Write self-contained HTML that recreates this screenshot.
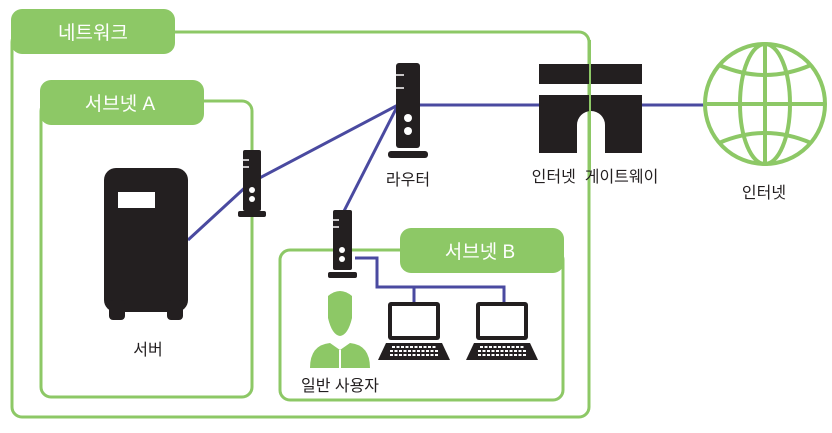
<!DOCTYPE html>
<html><head><meta charset="utf-8"><style>
body{margin:0;background:#fff;}
svg text{font-family:"Liberation Sans","Noto Sans CJK KR",sans-serif;}
</style></head><body>
<svg width="832" height="428" viewBox="0 0 832 428" xmlns="http://www.w3.org/2000/svg">
<g fill="none" stroke="#8dc866" stroke-width="3">
<rect x="12" y="32" width="577" height="385" rx="10"/>
<rect x="41" y="101" width="211" height="296" rx="10"/>
<rect x="280" y="250" width="283" height="150" rx="10"/>
</g>
<g fill="#8dc866">
<rect x="11" y="9" width="164" height="45" rx="11"/>
<rect x="40" y="80" width="164" height="45" rx="11"/>
<rect x="400" y="228" width="164" height="45" rx="11"/>
</g>
<g fill="#fff" font-size="19" text-anchor="middle">
<text x="93" y="39">네트워크</text>
<text x="120" y="110">서브넷 A</text>
<text x="480" y="258">서브넷 B</text>
</g>
<g fill="none" stroke="#4a4aa0" stroke-width="3">
<polyline points="188,240 250,183 398,105"/>
<line x1="398" y1="105" x2="342" y2="215"/>
<line x1="420" y1="105" x2="540" y2="105"/>
<line x1="642" y1="105" x2="706" y2="105"/>
<polyline points="355,258 377,258 377,287 504,287 504,302"/>
<line x1="414" y1="287" x2="414" y2="302"/>
</g>
<g fill="#231f20">
<rect x="396" y="63" width="24" height="85" rx="3"/>
<rect x="388" y="151" width="40" height="7" rx="3"/>
<rect x="243" y="150" width="18" height="61" rx="2"/>
<rect x="238" y="211" width="28" height="6" rx="2"/>
<rect x="333" y="210" width="19" height="60" rx="2"/>
<rect x="328" y="272" width="29" height="6" rx="2"/>
<rect x="104" y="168" width="84" height="144" rx="12"/>
<rect x="109" y="300" width="16" height="20" rx="4"/>
<rect x="167" y="300" width="16" height="20" rx="4"/>
<rect x="539" y="64" width="103" height="20"/>
<path d="M539 95H642V153H605V125A14 14 0 0 0 577 125V153H539Z"/>
</g>
<line x1="590" y1="40" x2="590" y2="170" stroke="#8dc866" stroke-width="2"/>
<g fill="#fff">
<circle cx="408" cy="118" r="4"/><circle cx="408" cy="131" r="4"/>
<circle cx="252" cy="190" r="3"/><circle cx="252" cy="199" r="3"/>
<circle cx="342" cy="250" r="3"/><circle cx="342" cy="259" r="3"/>
<rect x="118" y="192" width="37" height="16"/>
</g>
<g stroke="#fff" stroke-width="1.5">
<line x1="396" y1="75" x2="404" y2="75"/><line x1="396" y1="88" x2="404" y2="88"/>
<line x1="243" y1="160" x2="249" y2="160"/><line x1="243" y1="167" x2="249" y2="167"/>
<line x1="333" y1="220" x2="339" y2="220"/><line x1="333" y1="227" x2="339" y2="227"/>
</g>
<g>
<rect x="388" y="302" width="52" height="38" rx="3" fill="#231f20"/>
<rect x="392" y="306" width="44" height="30" fill="#fff"/>
<path d="M386 343H442L450 360H378Z" fill="#231f20"/>
<g stroke="#fff" stroke-width="2" stroke-dasharray="3 1.5"><line x1="392" y1="347" x2="436" y2="347"/><line x1="390" y1="351" x2="438" y2="351"/><line x1="390" y1="355" x2="438" y2="355"/></g>
<rect x="476" y="302" width="52" height="38" rx="3" fill="#231f20"/>
<rect x="480" y="306" width="44" height="30" fill="#fff"/>
<path d="M474 343H530L538 360H466Z" fill="#231f20"/>
<g stroke="#fff" stroke-width="2" stroke-dasharray="3 1.5"><line x1="480" y1="347" x2="524" y2="347"/><line x1="478" y1="351" x2="526" y2="351"/><line x1="478" y1="355" x2="526" y2="355"/></g>
</g>
<g fill="#8dc866">
<path d="M328 296Q340 286 352 296L352 318Q348 335 340 336Q332 335 328 318Z"/>
<path d="M310 368Q310 345 330 343L340 350L350 343Q370 345 370 368Z"/>
</g>
<line x1="340" y1="350" x2="340" y2="368" stroke="#fff" stroke-width="2"/>
<g fill="none" stroke="#8dc866" stroke-width="4">
<circle cx="765" cy="104" r="60"/>
<ellipse cx="765" cy="104" rx="25" ry="60"/>
<line x1="765" y1="44" x2="765" y2="164"/>
<line x1="705" y1="104" x2="825" y2="104"/>
<path d="M719 65Q765 85 811 65"/>
<path d="M719 143Q765 123 811 143"/>
</g>
<g fill="#231f20" font-size="16" text-anchor="middle">
<text x="148" y="355">서버</text>
<text x="408" y="185">라우터</text>
<text x="595" y="182" xml:space="preserve">인터넷  게이트웨이</text>
<text x="764" y="198">인터넷</text>
<text x="340" y="391">일반 사용자</text>
</g>
</svg>
</body></html>
